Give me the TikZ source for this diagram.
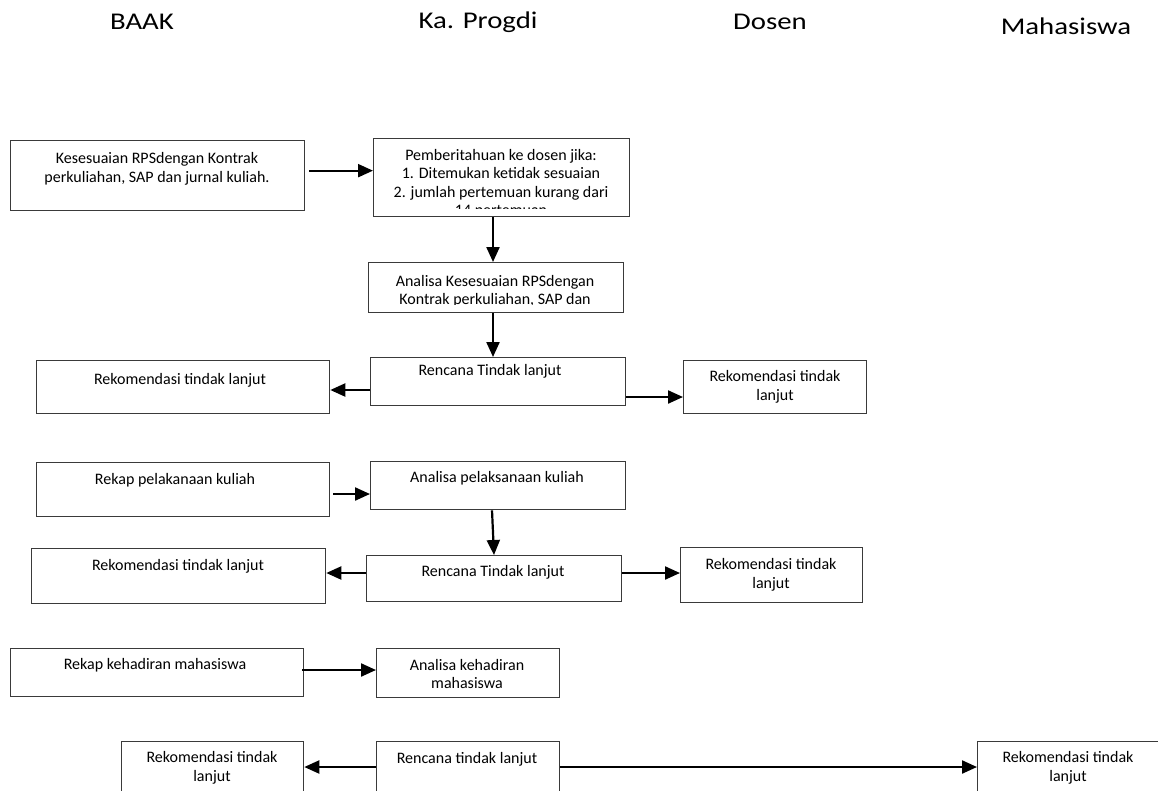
\documentclass[tikz,border=0pt]{standalone}
\usepackage{fontspec}
\setmainfont{Carlito}
\newfontfamily\judulfont{Carlito}[FakeStretch=1.2]
\usetikzlibrary{arrows.meta}
\definecolor{garis}{HTML}{3A3A3A}
\tikzset{
    kotak/.style={draw=garis,line width=1.3pt,inner sep=0pt,anchor=north west},
    teks/.style={font=\fontsize{16}{18.5}\selectfont,align=center,inner sep=0pt},
    judul/.style={font=\judulfont\fontsize{24}{28}\selectfont,inner sep=0pt},
    panah/.style={line width=2.2pt,-{Triangle[length=15pt,width=13pt]}}
}

\begin{document}
\begin{tikzpicture}[x=1pt,y=-1pt]
            \useasboundingbox (0,0) rectangle (1158,790);
            % judul kolom
            \foreach \x/\y/\t [count=\i] in {142/22/BAAK,478/22/Ka. Progdi,770/22/Dosen,1066/26/Mahasiswa}
                \node[judul] (h\i) at (\x,\y) {\t};
            % kesesuaian RPS
            \node[kotak,minimum width=294pt,minimum height=70pt] (b1) at (10,140) {};
            \node[teks] (t1) at (157,169) {Kesesuaian RPSdengan Kontrak\\perkuliahan, SAP dan jurnal kuliah.};
            \node[kotak,minimum width=256pt,minimum height=78pt] (b2) at (373,138) {};
            \begin{scope}
                \clip (b2.north west) rectangle ([yshift=9pt]b2.south east);
                \node[teks,anchor=north] (t2) at (501,149) {Pemberitahuan ke dosen jika:\\1. Ditemukan ketidak sesuaian\\2. jumlah pertemuan kurang dari\\14 pertemuan};
            \end{scope}
            \node[kotak,minimum width=255pt,minimum height=50pt] (b3) at (368,262) {};
            \begin{scope}
                \clip (b3.north west) rectangle ([yshift=9pt]b3.south east);
                \node[teks,anchor=north] (t3) at (495,275) {Analisa Kesesuaian RPSdengan\\Kontrak perkuliahan, SAP dan};
            \end{scope}
            \node[kotak,minimum width=255pt,minimum height=48pt] (b4) at (370,357) {};
            \node[teks] (t4) at (490,371) {Rencana Tindak lanjut};
            \node[kotak,minimum width=293pt,minimum height=53pt] (b5) at (36,360) {};
            \node[teks] (t5) at (180,380) {Rekomendasi tindak lanjut};
            \node[kotak,minimum width=183pt,minimum height=53pt] (b6) at (683,360) {};
            \node[teks] (t6) at (775,387) {Rekomendasi tindak\\lanjut};
            \draw[panah] ([xshift=4pt,yshift=5pt]b1.east) -- ([yshift=5pt]b1.east -| b2.west);
            \draw[panah] (b2.south -| 493,0) -- (b3.north -| 493,0);
            \draw[panah] (b3.south -| 493,0) -- (b4.north -| 493,0);
            \draw[panah] (b4.west |- 0,390) -- (b5.east |- 0,390);
            \draw[panah] (b4.east |- 0,397) -- (b6.west |- 0,397);
            % pelaksanaan kuliah
            \node[kotak,minimum width=293pt,minimum height=54pt] (b7) at (36,462) {};
            \node[teks] (t7) at (175,480) {Rekap pelakanaan kuliah};
            \node[kotak,minimum width=255pt,minimum height=48pt] (b8) at (370,461) {};
            \node[teks] (t8) at (497,478) {Analisa pelaksanaan kuliah};
            \node[kotak,minimum width=255pt,minimum height=46pt] (b9) at (366,555) {};
            \node[teks] (t9) at (493,572) {Rencana Tindak lanjut};
            \node[kotak,minimum width=294pt,minimum height=55pt] (b10) at (31,548) {};
            \node[teks] (t10) at (178,566) {Rekomendasi tindak lanjut};
            \node[kotak,minimum width=182pt,minimum height=55pt] (b11) at (680,547) {};
            \node[teks] (t11) at (771,575) {Rekomendasi tindak\\lanjut};
            \draw[panah] ([xshift=3pt]b7.east |- 0,494) -- (b8.west |- 0,494);
            \draw[panah] (b8.south -| 492,0) -- (b9.north -| 494,0);
            \draw[panah] (b9.west |- 0,573) -- (b10.east |- 0,573);
            \draw[panah] (b9.east |- 0,573) -- (b11.west |- 0,573);
            % kehadiran mahasiswa
            \node[kotak,minimum width=293pt,minimum height=48pt] (b12) at (10,648) {};
            \node[teks] (t12) at (155,665) {Rekap kehadiran mahasiswa};
            \node[kotak,minimum width=183pt,minimum height=49pt] (b13) at (376,648) {};
            \node[teks] (t13) at (467,674) {Analisa kehadiran\\mahasiswa};
            \node[kotak,minimum width=182pt,minimum height=60pt] (b14) at (121,741) {};
            \node[teks] (t14) at (212,768) {Rekomendasi tindak\\lanjut};
            \node[kotak,minimum width=183pt,minimum height=60pt] (b15) at (376,741) {};
            \node[teks] (t15) at (467,759) {Rencana tindak lanjut};
            \node[kotak,minimum width=190pt,minimum height=60pt] (b16) at (977,741) {};
            \node[teks] (t16) at (1068,768) {Rekomendasi tindak\\lanjut};
            \draw[panah] ([xshift=-2pt]b12.east |- 0,670) -- (b13.west |- 0,670);
            \draw[panah] (b15.west |- 0,767) -- (b14.east |- 0,767);
            \draw[panah] (b15.east |- 0,767) -- (b16.west |- 0,767);
        \end{tikzpicture}
\end{document}
